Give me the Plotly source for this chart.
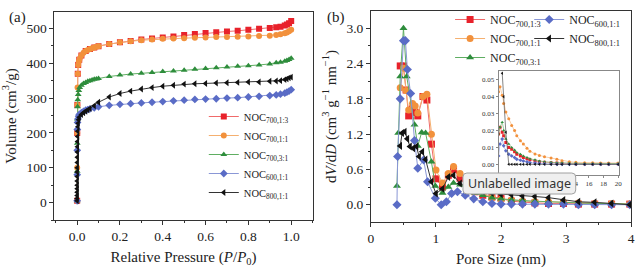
import plotly.graph_objects as go

# ---------------- data ----------------
names = ["NOC<sub>700,1:3</sub>", "NOC<sub>700,1:1</sub>", "NOC<sub>700,3:1</sub>",
         "NOC<sub>600,1:1</sub>", "NOC<sub>800,1:1</sub>"]
colors = ["#e8222b", "#f2913c", "#2e8d3c", "#5a6cc6", "#111111"]
line_colors = ["#f06a6a", "#f5b070", "#5fae62", "#8a97d6", "#333333"]
symbols = ["square", "circle", "triangle-up", "diamond", "triangle-left"]

# (a) N2 isotherms: relative pressure P/P0 and adsorbed volume (cm3/g)
iso_p_red = [0.0001, 0.0005, 0.001, 0.003, 0.005, 0.01, 0.02, 0.04, 0.06, 0.08, 0.1, 0.15, 0.2, 0.25,
             0.3, 0.35, 0.4, 0.45, 0.5, 0.55, 0.6, 0.65, 0.7, 0.75, 0.8, 0.85, 0.9, 0.93, 0.95, 0.97,
             0.98, 0.99, 1.0]
iso_v_red = [5, 200, 280, 370, 395, 410, 422, 435, 441, 445, 449, 455, 460, 464,
             468, 471, 474, 477, 481, 484, 487, 489, 491, 493, 496, 499, 501, 503, 505, 508,
             511, 515, 521]
iso_p_orange = [0.0001, 0.0003, 0.0005, 0.001, 0.002, 0.003, 0.005, 0.008, 0.012, 0.02, 0.03, 0.04,
                0.05, 0.06, 0.07, 0.08, 0.09, 0.1, 0.15, 0.2, 0.25, 0.3, 0.35, 0.4, 0.45, 0.5, 0.55,
                0.6, 0.65, 0.7, 0.75, 0.8, 0.85, 0.9, 0.93, 0.95, 0.97, 0.98, 0.99, 1.0]
iso_v_orange = [5, 100, 200, 280, 330, 370, 395, 405, 413, 422, 430, 435,
                438, 441, 443, 445, 447, 449, 455, 460, 463, 466, 468, 470, 471, 472, 473,
                474, 475, 475, 476, 477, 478, 479, 481, 483, 486, 488, 492, 496]
iso_p_green = [0.0001, 0.0003, 0.0005, 0.001, 0.002, 0.003, 0.005, 0.008, 0.012, 0.02, 0.03, 0.04,
               0.05, 0.06, 0.07, 0.08, 0.09, 0.1, 0.15, 0.2, 0.25, 0.3, 0.35, 0.4, 0.45, 0.5, 0.55,
               0.6, 0.65, 0.7, 0.75, 0.8, 0.85, 0.9, 0.93, 0.95, 0.97, 0.98, 0.99, 1.0]
iso_v_green = [5, 90, 170, 240, 275, 295, 310, 322, 330, 337, 342, 345,
               348, 350, 352, 354, 355, 356, 362, 366, 369, 371, 373, 376, 378, 380, 383,
               385, 387, 389, 391, 393, 395, 398, 401, 403, 406, 408, 411, 414]
iso_p_blue = [0.0001, 0.0003, 0.0005, 0.001, 0.002, 0.004, 0.007, 0.01, 0.02, 0.03, 0.04, 0.05, 0.06,
              0.08, 0.1, 0.15, 0.2, 0.25, 0.3, 0.35, 0.4, 0.45, 0.5, 0.55, 0.6, 0.65, 0.7, 0.75,
              0.8, 0.85, 0.9, 0.93, 0.95, 0.97, 0.98, 0.99, 1.0]
iso_v_blue = [5, 80, 150, 210, 230, 240, 248, 253, 258, 262, 265, 267, 269,
              272, 275, 279, 282, 284, 286, 288, 290, 292, 294, 296, 297, 298, 300, 301,
              303, 305, 307, 309, 311, 314, 317, 320, 324]
iso_p_black = [0.0001, 0.0002, 0.0003, 0.0004, 0.0005, 0.0006, 0.0007, 0.0008, 0.0009, 0.001, 0.0012,
               0.0014, 0.0016, 0.0018, 0.002, 0.0025, 0.003, 0.004, 0.005, 0.007, 0.01, 0.02, 0.03,
               0.04, 0.05, 0.06, 0.08, 0.1, 0.15, 0.2, 0.25, 0.3, 0.35, 0.4, 0.45, 0.5, 0.55, 0.6,
               0.65, 0.7, 0.75, 0.8, 0.85, 0.9, 0.93, 0.95, 0.97, 0.98, 0.99, 1.0]
iso_v_black = [5, 12, 20, 30, 40, 50, 62, 75, 88, 100, 115,
               130, 145, 160, 175, 190, 205, 218, 228, 238, 245, 253, 258,
               262, 266, 270, 278, 288, 303, 313, 320, 326, 330, 334, 337, 340, 341, 342,
               343, 344, 345, 346, 346, 348, 349, 350, 353, 355, 358, 360]

# (b) pore size distribution: pore size (nm) and dV/dD
psd_x_red = [0.45, 0.50, 0.54, 0.58, 0.64, 0.68, 0.72, 0.80, 0.86, 0.93, 1.00, 1.10, 1.19, 1.27, 1.37,
             1.49, 1.60, 1.72, 1.86, 2.00, 2.16, 2.33, 2.52, 2.73, 2.96, 3.19, 3.44, 3.70, 3.98]
psd_y_red = [2.36, 2.36, 1.95, 1.51, 1.63, 1.57, 1.51, 1.84, 1.78, 1.03, 0.44, 0.30, 0.50, 0.60, 0.45,
             0.30, 0.22, 0.16, 0.13, 0.11, 0.06, 0.04, 0.03, 0.02, 0.02, 0.01, 0.01, 0.01, 0.01]
psd_x_orange = psd_x_red
psd_y_orange = [1.99, 2.32, 1.94, 1.61, 1.72, 1.68, 1.56, 1.84, 1.88, 1.20, 0.59, 0.37, 0.53, 0.65, 0.53,
                0.38, 0.26, 0.19, 0.12, 0.09, 0.08, 0.06, 0.05, 0.05, 0.04, 0.03, 0.02, 0.02, 0.01]
psd_x_green = [0.40, 0.42, 0.45, 0.50, 0.55, 0.67, 0.72, 0.78, 0.84, 0.93, 0.99, 1.10, 1.19, 1.27, 1.37,
               1.49, 1.60, 1.72, 1.86, 2.00, 2.16, 2.33, 2.52, 2.73, 2.96, 3.19, 3.44, 3.70, 3.98]
psd_y_green = [0.32, 1.22, 2.18, 3.00, 2.18, 1.36, 1.00, 1.23, 1.22, 0.73, 0.32, 0.20, 0.30, 0.37, 0.34,
               0.26, 0.20, 0.16, 0.12, 0.10, 0.08, 0.07, 0.06, 0.05, 0.04, 0.03, 0.02, 0.02, 0.01]
psd_x_blue = [0.40, 0.41, 0.45, 0.50, 0.53, 0.56, 0.61, 0.67, 0.72, 0.81, 0.87, 0.99, 1.08, 1.16, 1.24,
              1.33, 1.45, 1.58, 1.72, 1.86, 2.00, 2.16, 2.33, 2.52, 2.73, 2.96, 3.19, 3.44, 3.70, 3.98]
psd_y_blue = [0.00, 0.82, 1.80, 2.79, 2.79, 2.30, 1.89, 1.09, 0.62, 0.76, 0.39, 0.11, 0.00, 0.05, 0.19,
              0.22, 0.16, 0.10, 0.05, 0.02, 0.01, 0.01, 0.01, 0.01, 0.01, 0.01, 0.00, 0.00, 0.00, 0.00]
psd_x_black = [0.45, 0.48, 0.52, 0.56, 0.60, 0.65, 0.70, 0.74, 0.79, 0.84, 0.93, 1.00, 1.10, 1.19, 1.27,
               1.37, 1.49, 1.60, 1.72, 1.86, 2.00, 2.16, 2.33, 2.52, 2.73, 2.96, 3.19, 3.44, 3.70, 3.98]
psd_y_black = [1.00, 1.22, 1.24, 1.12, 0.99, 0.96, 0.99, 0.82, 0.90, 0.77, 0.39, 0.19, 0.27, 0.47, 0.50,
               0.36, 0.30, 0.26, 0.23, 0.20, 0.18, 0.17, 0.15, 0.14, 0.12, 0.08, 0.05, 0.04, 0.02, 0.00]

# inset: larger pore sizes (nm)
inset_x = [3.6, 3.8, 4.1, 4.3, 4.6, 5.0, 5.4, 5.8, 6.1, 6.6, 7.0, 7.5, 7.9, 8.6, 9.2, 9.9, 10.8,
           11.6, 12.3, 13.3, 14.2, 15.4, 16.5, 17.6, 18.7, 20.0]
inset_red = [0.018, 0.022, 0.019, 0.017, 0.013, 0.010, 0.009, 0.0075, 0.006, 0.005, 0.004, 0.0033,
             0.0027, 0.002, 0.0016, 0.0013, 0.001, 0.0008, 0.0006, 0.0005, 0.0004, 0.0003, 0.0003,
             0.0003, 0.0003, 0.0003]
inset_orange = [0.043, 0.046, 0.041, 0.036, 0.031, 0.027, 0.023, 0.020, 0.017, 0.014, 0.012, 0.0095,
                0.0078, 0.0062, 0.0052, 0.0045, 0.0038, 0.003, 0.0022, 0.0016, 0.0012, 0.0010,
                0.0009, 0.0008, 0.0008, 0.0008]
inset_green = [0.018, 0.022, 0.025, 0.020, 0.015, 0.012, 0.010, 0.0085, 0.007, 0.006, 0.005, 0.004,
               0.0033, 0.0027, 0.002, 0.0015, 0.0012, 0.001, 0.0008, 0.0007, 0.0006, 0.0005, 0.0005,
               0.0005, 0.0005, 0.0005]
inset_blue = [0.005, 0.012, 0.015, 0.011, 0.008, 0.006, 0.005, 0.004, 0.003, 0.0025, 0.002, 0.0015,
              0.001, 0.0008, 0.0005, 0.0003, 0.0002, 0.0001, 0, 0, 0, 0, 0, 0, 0, 0]
inset_black = [None, None, 0.054, 0.040, 0.019, 0, 0, 0, 0, 0, 0, 0, 0, 0, 0, 0, 0, 0, 0, 0, 0, 0,
               0, 0, 0, 0]

iso_p = [iso_p_red, iso_p_orange, iso_p_green, iso_p_blue, iso_p_black]
iso_v = [iso_v_red, iso_v_orange, iso_v_green, iso_v_blue, iso_v_black]
psd_x = [psd_x_red, psd_x_orange, psd_x_green, psd_x_blue, psd_x_black]
psd_y = [psd_y_red, psd_y_orange, psd_y_green, psd_y_blue, psd_y_black]
inset_y = [inset_red, inset_orange, inset_green, inset_blue, inset_black]

W, H = 644, 272
SERIF = "Liberation Serif, Times New Roman, serif"

fig = go.Figure()

for i in range(5):
    fig.add_trace(go.Scatter(
        x=iso_p[i], y=iso_v[i], name=names[i], mode="lines+markers",
        line=dict(color=line_colors[i], width=1),
        marker=dict(symbol=symbols[i], size=6, color=colors[i], line=dict(width=0)),
        xaxis="x", yaxis="y", legend="legend"))

for i in range(5):
    fig.add_trace(go.Scatter(
        x=psd_x[i], y=psd_y[i], name=names[i], mode="lines+markers",
        line=dict(color=line_colors[i], width=1),
        marker=dict(symbol=symbols[i], size=7, color=colors[i], line=dict(width=0)),
        xaxis="x2", yaxis="y2", legend="legend2" if i < 3 else "legend3"))

for i in range(5):
    fig.add_trace(go.Scatter(
        x=inset_x, y=inset_y[i], mode="lines+markers", showlegend=False,
        line=dict(color=line_colors[i], width=0.6),
        marker=dict(symbol=symbols[i], size=3, color=colors[i], line=dict(width=0)),
        xaxis="x3", yaxis="y3"))

axis_common = dict(showline=True, mirror=True, linecolor="#333333", linewidth=1,
                   showgrid=False, zeroline=False, ticks="outside", ticklen=4,
                   tickcolor="#333333", tickfont=dict(family=SERIF, size=13.5, color="#222"))


def px_x(px):
    return px / W


def px_y(py):
    return 1 - py / H


fig.update_layout(
    width=W, height=H, margin=dict(l=0, r=0, t=0, b=0),
    paper_bgcolor="white", plot_bgcolor="white",
    font=dict(family=SERIF, color="#222"),
    xaxis=dict(axis_common, domain=[px_x(52), px_x(313)], range=[-0.106, 1.10], anchor="y",
               tickvals=[0, 0.2, 0.4, 0.6, 0.8, 1.0], tickformat=".1f",
               minor=dict(ticks="outside", ticklen=2, dtick=0.1, tick0=0, tickcolor="#333333"),
               title=dict(text="Relative Pressure (<i>P</i>/<i>P</i><sub>0</sub>)",
                          font=dict(family=SERIF, size=15), standoff=8)),
    yaxis=dict(axis_common, domain=[px_y(220), px_y(12)], range=[-50, 547], anchor="x",
               dtick=100, tick0=0,
               minor=dict(ticks="outside", ticklen=2, dtick=50, tick0=0, tickcolor="#333333"),
               title=dict(text="Volume (cm<sup>3</sup>/g)", font=dict(family=SERIF, size=15),
                          standoff=6)),
    xaxis2=dict(axis_common, domain=[px_x(372), px_x(635)], range=[0, 4], anchor="y2",
                dtick=1, tick0=0,
                minor=dict(ticks="outside", ticklen=2, dtick=0.5, tick0=0, tickcolor="#333333"),
                title=dict(text="Pore Size (nm)", font=dict(family=SERIF, size=15), standoff=8)),
    yaxis2=dict(axis_common, domain=[px_y(222), px_y(11)], range=[-0.294, 3.294], anchor="x2",
                dtick=0.6, tick0=0, tickformat=".1f",
                minor=dict(ticks="outside", ticklen=2, dtick=0.3, tick0=0, tickcolor="#333333"),
                title=dict(text="d<i>V</i>/d<i>D</i> (cm<sup>3</sup> g<sup>−1</sup> nm<sup>−1</sup>)",
                           font=dict(family=SERIF, size=15), standoff=6)),
    xaxis3=dict(showline=True, mirror=True, linecolor="#888888", linewidth=1, showgrid=False,
                zeroline=False, ticks="outside", ticklen=2, tickcolor="#888888",
                tickfont=dict(family=SERIF, size=7, color="#333"),
                domain=[px_x(501), px_x(623)], range=[3.6, 20.15], anchor="y3", dtick=2, tick0=0),
    yaxis3=dict(showline=True, mirror=True, linecolor="#888888", linewidth=1, showgrid=False,
                zeroline=False, ticks="outside", ticklen=2, tickcolor="#888888",
                tickfont=dict(family=SERIF, size=7, color="#333"),
                domain=[px_y(175), px_y(71)], range=[-0.0063, 0.0553], anchor="x3",
                dtick=0.01, tick0=0, tickformat=".2f"),
    legend=dict(x=px_x(203), y=px_y(102), xanchor="left", yanchor="top",
                bgcolor="rgba(0,0,0,0)", font=dict(family=SERIF, size=10.5), tracegroupgap=0),
    legend2=dict(x=px_x(452), y=px_y(5), xanchor="left", yanchor="top",
                 bgcolor="rgba(0,0,0,0)", font=dict(family=SERIF, size=12)),
    legend3=dict(x=px_x(532), y=px_y(5), xanchor="left", yanchor="top",
                 bgcolor="rgba(0,0,0,0)", font=dict(family=SERIF, size=12)),
)

# panel labels
fig.add_annotation(text="(a)", x=px_x(4), y=px_y(17), xref="paper", yref="paper",
                   xanchor="left", yanchor="middle", showarrow=False,
                   font=dict(family=SERIF, size=15, color="#222"))
fig.add_annotation(text="(b)", x=px_x(326), y=px_y(17), xref="paper", yref="paper",
                   xanchor="left", yanchor="middle", showarrow=False,
                   font=dict(family=SERIF, size=15, color="#222"))

# "Unlabelled image" tooltip overlay
x0, x1, y0, y1, r = px_x(465), px_x(579), px_y(194), px_y(173), 4
rx, ry = r / W, r / H
path = (f"M {x0+rx},{y0} L {x1-rx},{y0} Q {x1},{y0} {x1},{y0+ry} L {x1},{y1-ry} "
        f"Q {x1},{y1} {x1-rx},{y1} L {x0+rx},{y1} Q {x0},{y1} {x0},{y1-ry} "
        f"L {x0},{y0+ry} Q {x0},{y0} {x0+rx},{y0} Z")
fig.add_shape(type="path", path=path, xref="paper", yref="paper",
              fillcolor="#efefef", line=dict(color="#a0a0a0", width=1), layer="above")
fig.add_annotation(text="Unlabelled image", x=(x0 + x1) / 2, y=(y0 + y1) / 2,
                   xref="paper", yref="paper", xanchor="center", yanchor="middle",
                   showarrow=False,
                   font=dict(family="Noto Sans, DejaVu Sans, sans-serif", size=12.5, color="#333"))

fig.write_html("out.html", config={"displayModeBar": False},
               post_script="document.body.style.margin='0';document.body.style.overflow='hidden';")
